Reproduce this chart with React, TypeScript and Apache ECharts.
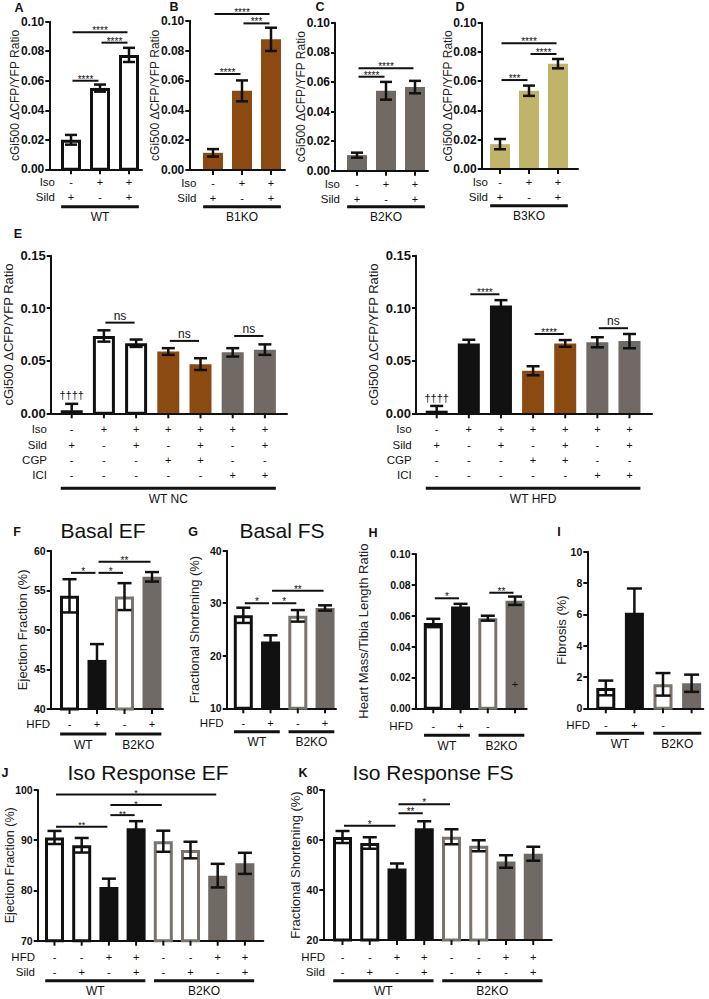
import React, { useEffect, useRef } from 'react';
import * as echarts from 'echarts';

const FONT = 'Arial, "Liberation Sans", Helvetica, sans-serif';
const INK = '#111111';
const BROWN = '#8B4A12';
const GRAY = '#716963';
const OLIVE = '#C0B36A';
const GRAY_EDGE = '#7B736E';

type Bracket = [number, number, number, string];
type Note = [number, number, string];

// ---------- Panels A-D (cGi500 ratio) ----------
const isoAD = ['-', '+', '+'];
const sildAD = ['+', '-', '+'];

const meanA = [0.02, 0.055, 0.0775];
const semA = [0.0033, 0.0024, 0.0048];
const bracketA: Bracket[] = [[1, 2, 0.06, '****'], [2, 3, 0.0858, '****'], [1, 3, 0.0928, '****']];

const meanB = [0.0115, 0.053, 0.0875];
const semB = [0.0025, 0.007, 0.0078];
const bracketB: Bracket[] = [[1, 2, 0.0643, '****'], [2, 3, 0.0982, '***'], [1, 3, 0.1045, '****']];

const meanC = [0.0105, 0.054, 0.0565];
const semC = [0.0017, 0.006, 0.0042];
const bracketC: Bracket[] = [[1, 2, 0.0635, '****'], [1, 3, 0.0692, '****']];

const meanD = [0.017, 0.0535, 0.072];
const semD = [0.0035, 0.0035, 0.0032];
const bracketD: Bracket[] = [[1, 2, 0.0608, '***'], [2, 3, 0.0786, '****'], [1, 3, 0.0859, '****']];

// ---------- Panel E ----------
const isoE = ['-', '+', '+', '+', '+', '+', '+'];
const sildE = ['+', '-', '+', '-', '+', '-', '+'];
const cgpE = ['-', '-', '-', '+', '+', '-', '-'];
const iciE = ['-', '-', '-', '-', '-', '+', '+'];

const meanENC = [0.003, 0.0736, 0.0667, 0.0588, 0.0468, 0.058, 0.0606];
const semENC = [0.006, 0.0054, 0.0035, 0.0032, 0.0056, 0.004, 0.005];
const bracketENC: Bracket[] = [[2, 3, 0.0863, 'ns'], [4, 5, 0.0689, 'ns'], [6, 7, 0.0736, 'ns']];
const noteENC: Note[] = [[1, 0.0174, '††††']];

const meanEHFD = [0.0025, 0.0665, 0.1025, 0.0405, 0.0665, 0.0676, 0.0687];
const semEHFD = [0.0045, 0.0035, 0.0052, 0.0043, 0.0032, 0.0048, 0.0068];
const bracketEHFD: Bracket[] = [[2, 3, 0.1133, '****'], [4, 5, 0.0755, '****'], [6, 7, 0.081, 'ns']];
const noteEHFD: Note[] = [[1, 0.0146, '††††']];

// ---------- Panels F-I ----------
const hfdFG = ['-', '+', '-', '+'];
const hfdHI = ['-', '+', '-', ''];

const meanF = [54.3, 46.2, 54.2, 56.7];
const semF = [2.1, 2.0, 1.7, 0.6];
const bracketF: Bracket[] = [[1, 2, 57.2, '*'], [2, 3, 57.2, '*'], [2, 4, 58.6, '**']];

const meanG = [27.7, 22.7, 27.6, 29.1];
const semG = [1.45, 1.2, 1.1, 0.5];
const bracketG: Bracket[] = [[1, 2, 30.0, '*'], [2, 3, 30.0, '*'], [2, 4, 32.4, '**']];

const meanH = [0.0553, 0.066, 0.0584, 0.0697];
const semH = [0.0027, 0.0017, 0.0016, 0.0027];
const bracketH: Bracket[] = [[1, 2, 0.0713, '*'], [3, 4, 0.0749, '**']];
const noteH: Note[] = [[4, 0.016, '+']];

const meanI = [1.3, 6.1, 1.53, 1.6];
const semI = [0.47, 1.55, 0.72, 0.55];

// ---------- Panels J-K ----------
const hfdJK = ['-', '-', '+', '+', '-', '-', '+', '+'];
const sildJK = ['-', '+', '-', '+', '-', '+', '-', '+'];

const meanJ = [90.55, 89.0, 80.7, 92.4, 89.8, 88.05, 82.95, 85.4];
const semJ = [1.3, 1.45, 1.65, 1.4, 2.1, 1.65, 2.35, 2.1];
const bracketJ: Bracket[] = [[1, 3, 92.7, '**'], [3, 4, 95.0, '**'], [3, 5, 97.0, '*'], [1, 7, 99.1, '*']];

const meanK = [61.2, 58.8, 48.6, 64.7, 61.3, 57.7, 51.4, 54.5];
const semK = [2.4, 2.3, 2.0, 2.8, 3.0, 2.2, 2.5, 2.8];
const bracketK: Bracket[] = [[1, 3, 65.7, '*'], [3, 4, 70.7, '**'], [3, 5, 74.3, '*']];

type Layout = { ax: number; end: number; top: number; bottom: number; c1: number; sp: number; bw: number; cap: number };
interface PanelDef {
  L: Layout;
  yMin: number; yMax: number; yStep: number; dec: number;
  yName: string; nameGap: number; nameSize: number; tickSize: number; starSize: number;
  means: number[]; sems: number[]; styles: string[];
  rows: { name: string; signs: string[] }[]; rowDy: number[]; rowRight: number;
  groups: { label: string; from: number; to: number }[]; groupDy: number;
  brackets: Bracket[]; notes: Note[];
}

const cgiName = 'cGi500 \u0394CFP/YFP Ratio';
const rowsAD = [{ name: 'Iso', signs: isoAD }, { name: 'Sild', signs: sildAD }];
const rowsE = [{ name: 'Iso', signs: isoE }, { name: 'Sild', signs: sildE }, { name: 'CGP', signs: cgpE }, { name: 'ICI', signs: iciE }];
const rowsJK = [{ name: 'HFD', signs: hfdJK }, { name: 'Sild', signs: sildJK }];

const PANELS: PanelDef[] = [
  { L: { ax: 49.3, end: 142, top: 21.7, bottom: 169.3, c1: 71, sp: 29, bw: 20, cap: 12 },
    yMin: 0, yMax: 0.1, yStep: 0.02, dec: 2, yName: cgiName, nameGap: 28, nameSize: 12, tickSize: 12, starSize: 10,
    means: meanA, sems: semA, styles: ['open', 'open', 'open'], rows: rowsAD, rowDy: [13, 28], rowRight: 55,
    groups: [{ label: 'WT', from: 1, to: 3 }], groupDy: 37.5, brackets: bracketA, notes: [] },
  { L: { ax: 189.3, end: 285, top: 20.7, bottom: 170, c1: 213, sp: 29, bw: 20, cap: 12 },
    yMin: 0, yMax: 0.1, yStep: 0.02, dec: 2, yName: cgiName, nameGap: 28, nameSize: 12, tickSize: 12, starSize: 10,
    means: meanB, sems: semB, styles: ['brown', 'brown', 'brown'], rows: rowsAD, rowDy: [13, 28], rowRight: 196.5,
    groups: [{ label: 'B1KO', from: 1, to: 3 }], groupDy: 36.7, brackets: bracketB, notes: [] },
  { L: { ax: 335, end: 428, top: 22.7, bottom: 170.7, c1: 357, sp: 29, bw: 20, cap: 12 },
    yMin: 0, yMax: 0.1, yStep: 0.02, dec: 2, yName: cgiName, nameGap: 28, nameSize: 12, tickSize: 12, starSize: 10,
    means: meanC, sems: semC, styles: ['gray', 'gray', 'gray'], rows: rowsAD, rowDy: [13, 28], rowRight: 340,
    groups: [{ label: 'B2KO', from: 1, to: 3 }], groupDy: 36, brackets: bracketC, notes: [] },
  { L: { ax: 481.7, end: 578, top: 22.7, bottom: 169, c1: 500, sp: 29, bw: 20, cap: 12 },
    yMin: 0, yMax: 0.1, yStep: 0.02, dec: 2, yName: cgiName, nameGap: 28, nameSize: 12, tickSize: 12, starSize: 10,
    means: meanD, sems: semD, styles: ['olive', 'olive', 'olive'], rows: rowsAD, rowDy: [13, 28], rowRight: 488,
    groups: [{ label: 'B3KO', from: 1, to: 3 }], groupDy: 36.7, brackets: bracketD, notes: [] },
  { L: { ax: 50.7, end: 287, top: 255.7, bottom: 413.3, c1: 71.7, sp: 32.2, bw: 22, cap: 13 },
    yMin: 0, yMax: 0.15, yStep: 0.05, dec: 2, yName: cgiName, nameGap: 36, nameSize: 13, tickSize: 13, starSize: 10,
    means: meanENC, sems: semENC, styles: ['open', 'open', 'open', 'brown', 'brown', 'gray', 'gray'],
    rows: rowsE, rowDy: [16, 31.5, 46.5, 61.5], rowRight: 47,
    groups: [{ label: 'WT NC', from: 1, to: 7 }], groupDy: 75, brackets: bracketENC, notes: noteENC },
  { L: { ax: 416, end: 652, top: 255.7, bottom: 413.3, c1: 436.7, sp: 32.13, bw: 22, cap: 13 },
    yMin: 0, yMax: 0.15, yStep: 0.05, dec: 2, yName: cgiName, nameGap: 36, nameSize: 13, tickSize: 13, starSize: 10,
    means: meanEHFD, sems: semEHFD, styles: ['black', 'black', 'black', 'brown', 'brown', 'gray', 'gray'],
    rows: rowsE, rowDy: [16, 31.5, 46.5, 61.5], rowRight: 411.7,
    groups: [{ label: 'WT HFD', from: 1, to: 7 }], groupDy: 75, brackets: bracketEHFD, notes: noteEHFD },
  { L: { ax: 50.7, end: 163, top: 550.7, bottom: 709, c1: 69.5, sp: 27.5, bw: 19, cap: 14 },
    yMin: 40, yMax: 60, yStep: 5, dec: 0, yName: 'Ejection Fraction (%)', nameGap: 22, nameSize: 13, tickSize: 10.5, starSize: 10,
    means: meanF, sems: semF, styles: ['open', 'black', 'openGray', 'gray'],
    rows: [{ name: 'HFD', signs: hfdFG }], rowDy: [14.5], rowRight: 50,
    groups: [{ label: 'WT', from: 1, to: 2 }, { label: 'B2KO', from: 3, to: 4 }], groupDy: 25, brackets: bracketF, notes: [] },
  { L: { ax: 226.7, end: 336, top: 550.7, bottom: 708.3, c1: 243.3, sp: 27.25, bw: 19, cap: 14 },
    yMin: 10, yMax: 40, yStep: 10, dec: 0, yName: 'Fractional Shortening (%)', nameGap: 26, nameSize: 13, tickSize: 10.5, starSize: 10,
    means: meanG, sems: semG, styles: ['open', 'black', 'openGray', 'gray'],
    rows: [{ name: 'HFD', signs: hfdFG }], rowDy: [15], rowRight: 223.5,
    groups: [{ label: 'WT', from: 1, to: 2 }, { label: 'B2KO', from: 3, to: 4 }], groupDy: 23.5, brackets: bracketG, notes: [] },
  { L: { ax: 415.7, end: 526.7, top: 554, bottom: 708.3, c1: 433.3, sp: 27.25, bw: 19, cap: 14 },
    yMin: 0, yMax: 0.1, yStep: 0.02, dec: 2, yName: 'Heart Mass/Tibia Length Ratio', nameGap: 46, nameSize: 13, tickSize: 10.5, starSize: 10,
    means: meanH, sems: semH, styles: ['open', 'black', 'openGray', 'gray'],
    rows: [{ name: 'HFD', signs: hfdHI }], rowDy: [18], rowRight: 413,
    groups: [{ label: 'WT', from: 1, to: 2 }, { label: 'B2KO', from: 3, to: 4 }], groupDy: 27, brackets: bracketH, notes: noteH },
  { L: { ax: 587.3, end: 703.3, top: 551.7, bottom: 708.3, c1: 605.8, sp: 28.6, bw: 19, cap: 15 },
    yMin: 0, yMax: 10, yStep: 2, dec: 0, yName: 'Fibrosis (%)', nameGap: 19, nameSize: 13, tickSize: 10.5, starSize: 10,
    means: meanI, sems: semI, styles: ['open', 'black', 'openGray', 'gray'],
    rows: [{ name: 'HFD', signs: hfdHI }], rowDy: [16.5], rowRight: 590,
    groups: [{ label: 'WT', from: 1, to: 2 }, { label: 'B2KO', from: 3, to: 4 }], groupDy: 25, brackets: [], notes: [] },
  { L: { ax: 37.7, end: 263.3, top: 790, bottom: 940.7, c1: 54.5, sp: 27.2, bw: 19, cap: 14 },
    yMin: 70, yMax: 100, yStep: 10, dec: 0, yName: 'Ejection Fraction (%)', nameGap: 21, nameSize: 12.5, tickSize: 10.5, starSize: 9,
    means: meanJ, sems: semJ, styles: ['open', 'open', 'black', 'black', 'openGray', 'openGray', 'gray', 'gray'],
    rows: rowsJK, rowDy: [16, 31], rowRight: 35,
    groups: [{ label: 'WT', from: 1, to: 4 }, { label: 'B2KO', from: 5, to: 8 }], groupDy: 40, brackets: bracketJ, notes: [] },
  { L: { ax: 323.3, end: 551.7, top: 790, bottom: 940, c1: 342.5, sp: 27.25, bw: 19, cap: 14 },
    yMin: 20, yMax: 80, yStep: 20, dec: 0, yName: 'Fractional Shortening (%)', nameGap: 21.5, nameSize: 13, tickSize: 10.5, starSize: 10,
    means: meanK, sems: semK, styles: ['open', 'open', 'black', 'black', 'openGray', 'openGray', 'gray', 'gray'],
    rows: rowsJK, rowDy: [16.5, 31.5], rowRight: 325,
    groups: [{ label: 'WT', from: 1, to: 4 }, { label: 'B2KO', from: 5, to: 8 }], groupDy: 40.7, brackets: bracketK, notes: [] },
];

function fillFor(k: string) {
  switch (k) {
    case 'open':
    case 'openGray': return '#ffffff';
    case 'black': return INK;
    case 'brown': return BROWN;
    case 'gray': return GRAY;
    default: return OLIVE;
  }
}
function edgeFor(k: string) {
  if (k === 'open') return INK;
  if (k === 'openGray') return GRAY_EDGE;
  return null;
}

function txt(text: string, x: number, y: number, font: string, align = 'center', valign = 'middle', fill = INK) {
  return { type: 'text', style: { text, x, y, font, textAlign: align, textVerticalAlign: valign, fill } };
}

function buildPanel(p: PanelDef, gi: number) {
  const L = p.L;
  const xMin = 1 - (L.c1 - L.ax) / L.sp;
  const xMax = xMin + (L.end - L.ax) / L.sp;
  const grid = { left: L.ax, top: L.top, width: L.end - L.ax, height: L.bottom - L.top, outerBoundsMode: 'none' };
  const xAxis = {
    type: 'value', gridIndex: gi, min: xMin, max: xMax, z: 3,
    axisLine: { show: true, onZero: false, lineStyle: { color: INK, width: 2 } },
    axisTick: { show: false }, axisLabel: { show: false }, splitLine: { show: false },
  };
  const yAxis = {
    type: 'value', gridIndex: gi, min: p.yMin, max: p.yMax, interval: p.yStep, z: 3,
    axisLine: { show: true, onZero: false, lineStyle: { color: INK, width: 2 } },
    axisTick: { show: true, length: 4, lineStyle: { color: INK, width: 2 } },
    axisLabel: { margin: 5, color: INK, fontWeight: 'bold', fontSize: p.tickSize, fontFamily: FONT,
      formatter: (v: number) => v.toFixed(p.dec) },
    splitLine: { show: false },
    name: p.yName, nameLocation: 'middle', nameGap: p.nameGap, nameMoveOverlap: false,
    nameTextStyle: { fontSize: p.nameSize, fontFamily: FONT, color: '#222' },
  };
  const series: any[] = [];
  // bars
  series.push({
    type: 'bar', xAxisIndex: gi, yAxisIndex: gi, barWidth: L.bw, silent: true, z: 2,
    data: p.means.map((m, k) => ({ value: [k + 1, m], itemStyle: { color: fillFor(p.styles[k]) } })),
  });
  // open-bar outlines (inset so that outer width equals bar width) + error bars
  series.push({
    type: 'custom', xAxisIndex: gi, yAxisIndex: gi, silent: true, z: 4,
    encode: { x: 0, y: 1 },
    data: p.means.map((m, k) => [k + 1, m, p.sems[k]]),
    renderItem: (params: any, api: any) => {
      const k = params.dataIndex;
      const x = api.value(0), m = api.value(1), s = api.value(2);
      const ch: any[] = [];
      const edge = edgeFor(p.styles[k]);
      if (edge) {
        const top = api.coord([x, m]);
        const base = api.coord([x, p.yMin]);
        const h = Math.max(0, base[1] - top[1] - 1.5);
        ch.push({ type: 'rect', shape: { x: top[0] - L.bw / 2 + 1.5, y: top[1] + 1.5, width: L.bw - 3, height: h },
          style: { fill: 'none', stroke: edge, lineWidth: 3 } });
      }
      const lo = Math.max(m - s, p.yMin);
      const t = api.coord([x, m + s]);
      const b = api.coord([x, lo]);
      const hw = L.cap / 2;
      const st = { stroke: INK, lineWidth: 2.5 };
      ch.push({ type: 'line', shape: { x1: t[0], y1: t[1], x2: b[0], y2: b[1] }, style: st });
      ch.push({ type: 'line', shape: { x1: t[0] - hw, y1: t[1], x2: t[0] + hw, y2: t[1] }, style: st });
      if (m - s > p.yMin) ch.push({ type: 'line', shape: { x1: b[0] - hw, y1: b[1], x2: b[0] + hw, y2: b[1] }, style: st });
      return { type: 'group', children: ch };
    },
  });
  // x ticks, treatment rows, group underlines
  series.push({
    type: 'custom', xAxisIndex: gi, yAxisIndex: gi, silent: true, z: 4,
    encode: { x: 0, y: 1 },
    data: p.means.map((_, k) => [k + 1, p.yMin]),
    renderItem: (params: any, api: any) => {
      const k = params.dataIndex;
      const c = api.coord([k + 1, p.yMin]);
      const y0 = c[1];
      const ch: any[] = [{ type: 'line', shape: { x1: c[0], y1: y0, x2: c[0], y2: y0 + 5 }, style: { stroke: INK, lineWidth: 2 } }];
      p.rows.forEach((r, ri) => {
        if (r.signs[k]) ch.push(txt(r.signs[k], c[0], y0 + p.rowDy[ri], `11px ${FONT}`));
      });
      if (k === 0) {
        p.rows.forEach((r, ri) => ch.push(txt(r.name, p.rowRight, y0 + p.rowDy[ri], `11.5px ${FONT}`, 'right')));
        p.groups.forEach((g) => {
          const a = api.coord([g.from - 0.34, p.yMin]);
          const b = api.coord([g.to + 0.34, p.yMin]);
          ch.push({ type: 'line', shape: { x1: a[0], y1: y0 + p.groupDy, x2: b[0], y2: y0 + p.groupDy }, style: { stroke: INK, lineWidth: 3 } });
          ch.push(txt(g.label, (a[0] + b[0]) / 2, y0 + p.groupDy + 10.5, `12px ${FONT}`));
        });
      }
      return { type: 'group', children: ch };
    },
  });
  if (p.brackets.length) {
    series.push({
      type: 'custom', xAxisIndex: gi, yAxisIndex: gi, silent: true, z: 4,
      encode: { x: 0, y: 2 },
      data: p.brackets.map((b) => [b[0], b[1], b[2]]),
      renderItem: (params: any, api: any) => {
        const br = p.brackets[params.dataIndex];
        const a = api.coord([api.value(0), api.value(2)]);
        const b = api.coord([api.value(1), api.value(2)]);
        const star = br[3].indexOf('*') >= 0;
        return {
          type: 'group', children: [
            { type: 'line', shape: { x1: a[0] + 1.5, y1: a[1], x2: b[0] - 1.5, y2: b[1] }, style: { stroke: INK, lineWidth: 2 } },
            star
              ? txt(br[3], (a[0] + b[0]) / 2, a[1] - 1.5, `${p.starSize}px ${FONT}`)
              : txt(br[3], (a[0] + b[0]) / 2, a[1] - 7, `12px ${FONT}`),
          ],
        };
      },
    });
  }
  if (p.notes.length) {
    series.push({
      type: 'custom', xAxisIndex: gi, yAxisIndex: gi, silent: true, z: 4,
      encode: { x: 0, y: 1 },
      data: p.notes.map((n) => [n[0], n[1]]),
      renderItem: (params: any, api: any) => {
        const n = p.notes[params.dataIndex];
        const c = api.coord([api.value(0), api.value(1)]);
        return txt(n[2], c[0], c[1], `11px ${FONT}`);
      },
    });
  }
  return { grid, xAxis, yAxis, series };
}

function buildOption() {
  const parts = PANELS.map((p, i) => buildPanel(p, i));
  const letters: [string, number, number][] = [
    ['A', 19, 8], ['B', 174, 7], ['C', 320, 7], ['D', 460, 7], ['E', 18, 234],
    ['F', 17, 532], ['G', 193, 532], ['H', 373, 533], ['I', 559, 532], ['J', 5, 773], ['K', 303, 773],
  ];
  const titles: [string, number, number][] = [
    ['Basal EF', 103, 530], ['Basal FS', 282, 530], ['Iso Response EF', 148, 772], ['Iso Response FS', 433, 772],
  ];
  const graphic: any[] = [
    ...letters.map(([t, x, y]) => txt(t, x, y, `bold 12.5px ${FONT}`)),
    ...titles.map(([t, x, y]) => txt(t, x, y, `21px ${FONT}`)),
  ];
  return {
    animation: false,
    backgroundColor: '#ffffff',
    grid: parts.map((p) => p.grid),
    xAxis: parts.map((p) => p.xAxis),
    yAxis: parts.map((p) => p.yAxis),
    series: parts.flatMap((p) => p.series),
    graphic,
  };
}

export default function App() {
  const ref = useRef<HTMLDivElement>(null);
  useEffect(() => {
    if (!ref.current) return;
    const chart = echarts.init(ref.current, undefined, { renderer: 'svg' });
    chart.setOption(buildOption() as any);
    return () => chart.dispose();
  }, []);
  return <div ref={ref} style={{ position: 'absolute', left: 0, top: 0, width: 709, height: 999, background: '#fff' }} />;
}
